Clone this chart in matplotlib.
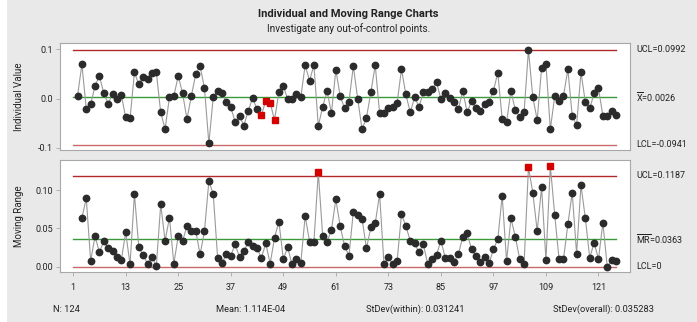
import numpy as np
import matplotlib
matplotlib.use("Agg")
import matplotlib.pyplot as plt
from matplotlib import transforms
from matplotlib.patches import Rectangle

plt.rcParams['font.family'] = ['Roboto', 'DejaVu Sans']
plt.rcParams['mathtext.fontset'] = 'custom'
plt.rcParams['mathtext.rm'] = 'Roboto'

# individual values (observation 1 is missing, so they sit at 2..125)
indiv = [0.0053, 0.0698, -0.0212, -0.0117, 0.0264, 0.0460, 0.0107, -0.0103, 0.0094, -0.0015,
         0.0074, -0.0381, -0.0402, 0.0535, 0.0290, 0.0447, 0.0400, 0.0515, 0.0535, -0.0280,
         -0.0619, 0.0026, 0.0053, 0.0460, 0.0107, -0.0415, 0.0053, 0.0495, 0.0664, 0.0210,
         -0.0910, 0.0026, 0.0160, 0.0107, -0.0062, -0.0178, -0.0470, -0.0354, -0.0550, -0.0246,
         0.0015, -0.0218, -0.0334, -0.0042, -0.0083, -0.0436, 0.0141, 0.0257, -0.0008, -0.0008,
         0.0087, 0.0026, 0.0685, 0.0366, 0.0685, -0.0558, -0.0164, 0.0160, -0.0300, 0.0583,
         0.0053, -0.0198, -0.0062, 0.0664, -0.0008, -0.0626, -0.0388, 0.0128, 0.0685, -0.0300,
         -0.0300, -0.0185, -0.0164, -0.0083, 0.0596, 0.0087, -0.0280, 0.0026, -0.0164, 0.0128,
         0.0128, 0.0189, 0.0332, -0.0008, 0.0107, 0.0006, -0.0062, -0.0218, 0.0160, -0.0280,
         -0.0049, -0.0198, -0.0252, -0.0110, -0.0062, 0.0160, 0.0528, -0.0415, -0.0483, 0.0155,
         -0.0232, -0.0368, -0.0280, 0.0990, 0.0026, -0.0436, 0.0617, 0.0698, -0.0626, 0.0053,
         -0.0042, 0.0053, 0.0596, -0.0354, -0.0538, 0.0535, -0.0076, -0.0198, 0.0107, 0.0210,
         -0.0354, -0.0354, -0.0252, -0.0334]

# moving ranges, positions 3..125
mr = [0.0639, 0.0891, 0.0074, 0.0400, 0.0187, 0.0335, 0.0239, 0.0209, 0.0122, 0.0087,
      0.0448, 0.0030, 0.0948, 0.0252, 0.0152, 0.0039, 0.0130, 0.0009, 0.0813, 0.0339,
      0.0639, 0.0039, 0.0400, 0.0335, 0.0530, 0.0465, 0.0465, 0.0161, 0.0465, 0.1117,
      0.0948, 0.0117, 0.0043, 0.0165, 0.0143, 0.0291, 0.0126, 0.0204, 0.0317, 0.0274,
      0.0239, 0.0117, 0.0304, 0.0039, 0.0378, 0.0587, 0.0100, 0.0252, 0.0030, 0.0096,
      0.0052, 0.0661, 0.0326, 0.0326, 0.1230, 0.0400, 0.0326, 0.0478, 0.0878, 0.0530,
      0.0270, 0.0143, 0.0717, 0.0674, 0.0622, 0.0239, 0.0513, 0.0565, 0.0948, 0.0030,
      0.0130, 0.0030, 0.0074, 0.0687, 0.0530, 0.0339, 0.0304, 0.0187, 0.0291, 0.0030,
      0.0096, 0.0152, 0.0339, 0.0117, 0.0109, 0.0065, 0.0165, 0.0391, 0.0435, 0.0230,
      0.0139, 0.0065, 0.0130, 0.0043, 0.0226, 0.0361, 0.0926, 0.0074, 0.0630, 0.0391,
      0.0100, 0.0035, 0.1296, 0.0965, 0.0465, 0.1035, 0.0087, 0.1313, 0.0674, 0.0096,
      0.0096, 0.0552, 0.0965, 0.0165, 0.1065, 0.0630, 0.0117, 0.0313, 0.0100, 0.0574,
      0.0000, 0.0087, 0.0074]

i_limits = (0.0992, 0.0026, -0.0941)
mr_limits = (0.1187, 0.0363, 0.0)
i_red = [44, 45, 46, 47]        # positions flagged (test 2)
mr_red = [57, 105, 110]         # positions above UCL
xticks = [1, 13, 25, 37, 49, 61, 73, 85, 97, 109, 121]

x_i = np.arange(2, 2 + len(indiv))
x_mr = np.arange(3, 3 + len(mr))
indiv = np.array(indiv)
mr = np.array(mr)

bg = '#e9e9e9'
fig = plt.figure(figsize=(6.97, 3.22), dpi=100, facecolor='white')
fig.patches.append(Rectangle((0.01, 0.0), 0.99, 1.0, transform=fig.transFigure,
                             facecolor=bg, edgecolor='none', zorder=-10))

ax1 = fig.add_axes([0.0861, 0.534, 0.8178, 0.3315])
ax2 = fig.add_axes([0.0861, 0.1543, 0.8178, 0.3488])

ucl_col = '#b22a2a'
cl_col = '#3a9a3a'
for ax, xs, ys, lims, red in [(ax1, x_i, indiv, i_limits, i_red),
                              (ax2, x_mr, mr, mr_limits, mr_red)]:
    ax.set_facecolor('white')
    ax.plot([1, 125], [lims[0]] * 2, color=ucl_col, lw=1.0, zorder=1)
    ax.plot([1, 125], [lims[2]] * 2, color=ucl_col, lw=1.0, alpha=0.7, zorder=1)
    ax.plot([1, 125], [lims[1]] * 2, color=cl_col, lw=1.0, zorder=1)
    ax.plot(xs, ys, color='#9a9a9a', lw=0.8, zorder=2)
    normal = ~np.isin(xs, red)
    ax.plot(xs[normal], ys[normal], 'o', color='#2b2b2b', ms=4.6, mec='#2b2b2b', zorder=3)
    mask = np.isin(xs, red)
    ax.plot(xs[mask], ys[mask], 's', color='#d40000', ms=4.6, mec='#d40000', zorder=4)
    ax.set_xlim(-2, 128.2)
    for s in ax.spines.values():
        s.set_color('#a8a8a8')
        s.set_linewidth(0.8)
    ax.tick_params(axis='both', labelsize=6.5, length=3, width=0.6, color='#a8a8a8',
                   labelcolor='#222222', pad=2)

ax1.set_ylim(-0.1047, 0.1126)
ax1.set_yticks([-0.1, 0.0, 0.1])
ax1.set_yticklabels(['-0.1', '0.0', '0.1'])
ax1.set_xticks([])
ax1.set_ylabel('Individual Value', fontsize=7, color='#222222')

ax2.set_ylim(-0.0073, 0.1392)
ax2.set_yticks([0.0, 0.05, 0.10])
ax2.set_yticklabels(['0.00', '0.05', '0.10'])
ax2.set_xticks(xticks)
ax2.tick_params(axis='x', pad=5)
ax2.set_ylabel('Moving Range', fontsize=7, color='#222222')
ax1.yaxis.set_label_coords(-0.064, 0.5)
ax2.yaxis.set_label_coords(-0.064, 0.5)

tx = 636 / 697
t1 = transforms.blended_transform_factory(fig.transFigure, ax1.transData)
t2 = transforms.blended_transform_factory(fig.transFigure, ax2.transData)
lab = dict(fontsize=6.5, color='#222222', va='center', ha='left')
ax1.text(tx, i_limits[0], 'UCL=0.0992', transform=t1, **lab)
ax1.text(tx, i_limits[1], r'$\overline{\mathrm{X}}$=0.0026', transform=t1, **lab)
ax1.text(tx, i_limits[2], 'LCL=-0.0941', transform=t1, **lab)
ax2.text(tx, mr_limits[0], 'UCL=0.1187', transform=t2, **lab)
ax2.text(tx, mr_limits[1], r'$\overline{\mathrm{MR}}$=0.0363', transform=t2, **lab)
ax2.text(tx, mr_limits[2], 'LCL=0', transform=t2, **lab)

fig.text(0.5, 1 - 14 / 322, 'Individual and Moving Range Charts', ha='center', va='center',
         fontsize=8, fontweight='bold', color='#222222')
fig.text(0.5, 1 - 29 / 322, 'Investigate any out-of-control points.', ha='center',
         va='center', fontsize=7.2, color='#222222')

stats = [(53, 'N: 124'), (216, 'Mean: 1.114E-04'), (366, 'StDev(within): 0.031241'),
         (553, 'StDev(overall): 0.035283')]
for px, s in stats:
    fig.text(px / 697, 1 - 309 / 322, s, ha='left', va='center', fontsize=6.7, color='#222222')

fig.savefig('out.png', dpi=100, facecolor=fig.get_facecolor())
